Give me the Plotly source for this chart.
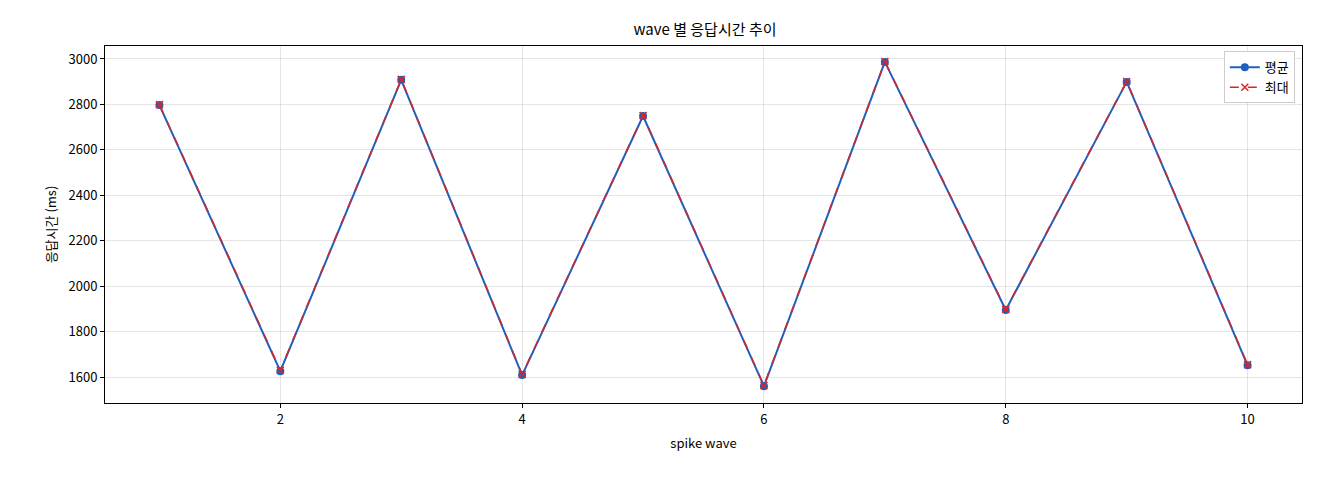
import plotly.graph_objects as go

waves = [1, 2, 3, 4, 5, 6, 7, 8, 9, 10]
avg_ms = [2797, 1626, 2908, 1609, 2749, 1560, 2987, 1895, 2899, 1652]
max_ms = [2799, 1630, 2910, 1612, 2751, 1563, 2989, 1898, 2901, 1655]

FONT = "Noto Sans CJK KR"

fig = go.Figure()
fig.add_trace(go.Scatter(
    x=waves, y=avg_ms, name="평균", mode="lines+markers",
    line=dict(color="#1f5fbf", width=2),
    marker=dict(symbol="circle", size=8, color="#1f5fbf"),
))
fig.add_trace(go.Scatter(
    x=waves, y=max_ms, name="최대", mode="lines+markers",
    line=dict(color="#d62728", width=1.5, dash="dash"),
    marker=dict(symbol="x-thin", size=7, line=dict(color="#d62728", width=1.5)),
))

axis_common = dict(
    showline=True, linecolor="black", linewidth=1, mirror=True,
    showgrid=True, gridcolor="rgba(0,0,0,0.1)", zeroline=False,
    ticks="outside", ticklen=4, tickcolor="black",
    tickfont=dict(size=13, color="black"),
)

fig.update_layout(
    width=1320, height=480,
    paper_bgcolor="white", plot_bgcolor="white",
    font=dict(family=FONT, color="black"),
    margin=dict(l=97, r=26, t=38, b=85),
    title=dict(text="wave 별 응답시간 추이", x=0.528, xanchor="center",
               y=0.955, yanchor="middle", font=dict(size=15)),
    xaxis=dict(axis_common, range=[0.55, 10.45], tickvals=[2, 4, 6, 8, 10],
               title=dict(text="spike wave", font=dict(size=13), standoff=12)),
    yaxis=dict(axis_common, range=[1486, 3057], dtick=200,
               title=dict(text="응답시간 (ms)", font=dict(size=13), standoff=8)),
    legend=dict(x=0.994, y=0.985, xanchor="right", yanchor="top",
                bgcolor="white", bordercolor="#cccccc", borderwidth=1,
                font=dict(size=13)),
)

fig.write_html("out.html")
